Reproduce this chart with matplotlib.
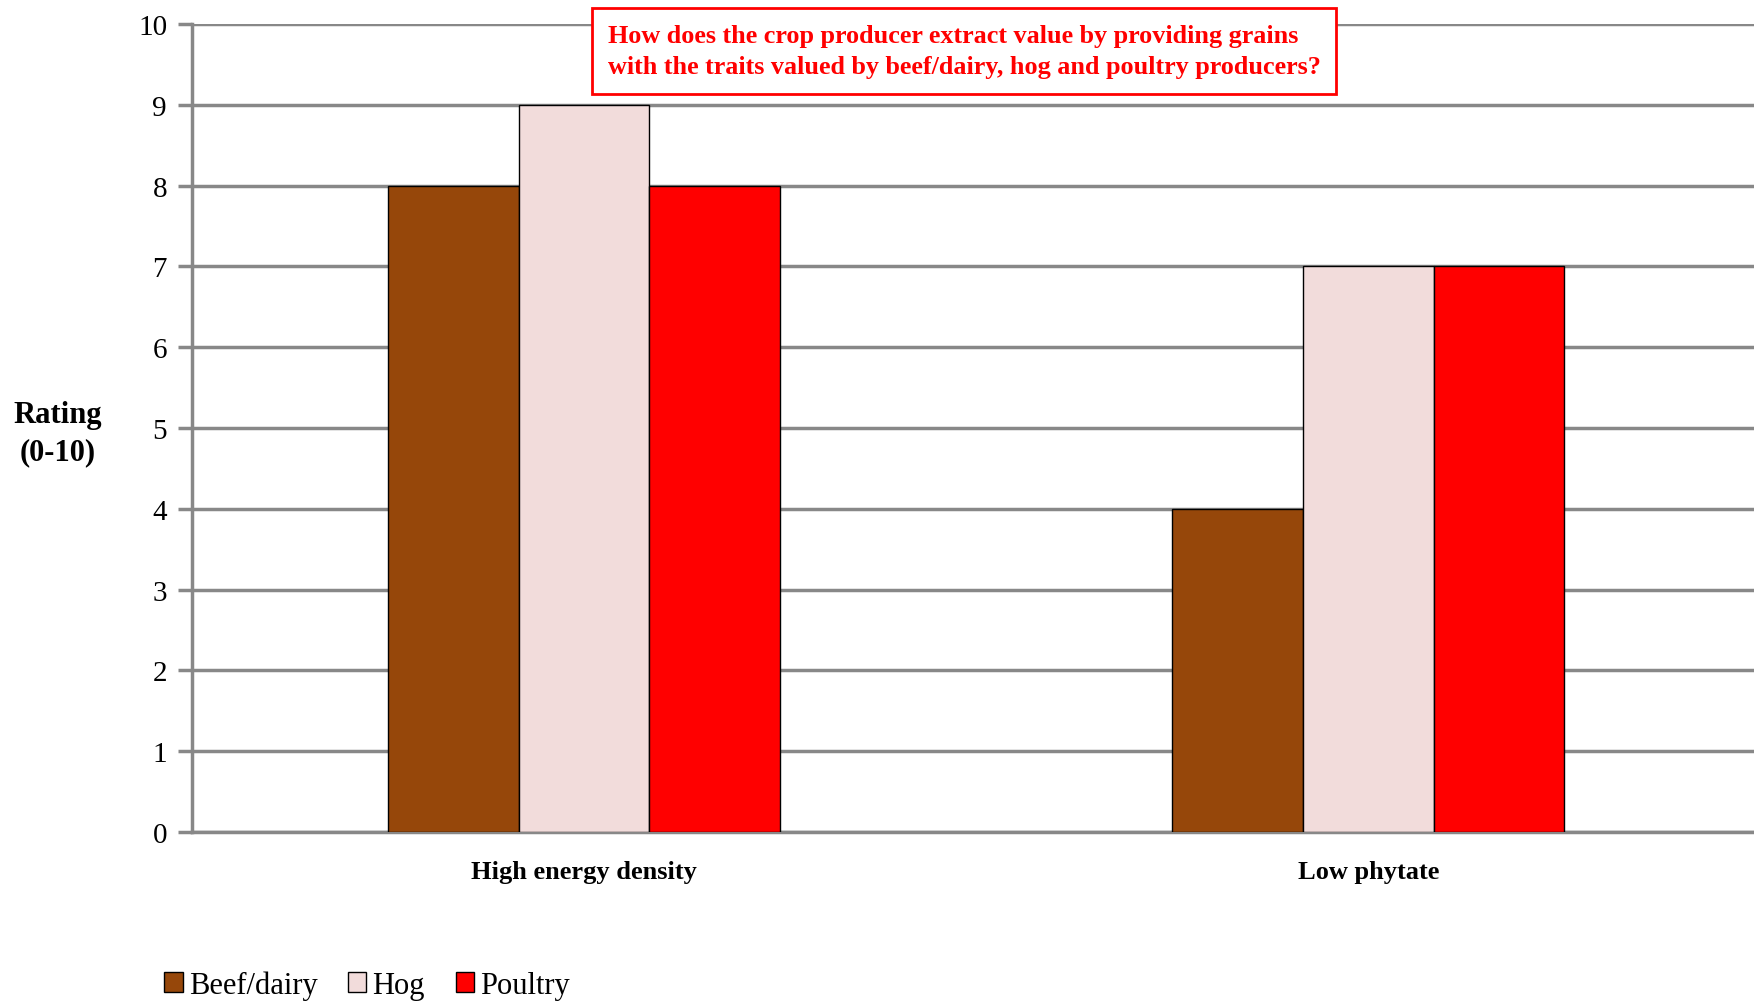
import numpy as np
import matplotlib.pyplot as plt

# data
categories = ['High energy density', 'Low phytate']
series = ['Beef/dairy', 'Hog', 'Poultry']
beef_dairy = [8, 4]
hog = [9, 7]
poultry = [8, 7]
colors = ['#96470A', '#F2DCDB', '#FF0000']
question = ('How does the crop producer extract value by providing grains\n'
            'with the traits valued by beef/dairy, hog and poultry producers?')

plt.rcParams['font.family'] = ['Liberation Serif', 'DejaVu Serif']

fig = plt.figure(figsize=(17.54, 10.03), dpi=100)
ax = fig.add_axes([0.1095, 0.1695, 0.8905, 0.8055])

x = np.arange(len(categories))
w = 0.5 / 3
for i, (vals, name) in enumerate(zip([beef_dairy, hog, poultry], series)):
    ax.bar(x + (i - 1) * w, vals, w, color=colors[i], edgecolor='black',
           linewidth=1, label=name, zorder=3)

ax.set_xlim(-0.5, 1.492)
ax.set_ylim(0, 10)
ax.set_yticks(range(0, 11))
ax.yaxis.grid(True, color='#888888', linewidth=2.5, zorder=0)
ax.set_axisbelow(True)

for s in ['top', 'right']:
    ax.spines[s].set_visible(False)
for s in ['left', 'bottom']:
    ax.spines[s].set_color('#888888')
    ax.spines[s].set_linewidth(2.5)

ax.tick_params(axis='y', length=10, width=2.5, color='#888888', labelsize=21, pad=8)
ax.tick_params(axis='x', length=0, labelsize=19, pad=20)
ax.set_xticks(x)
ax.set_xticklabels(categories, fontweight='bold')

fig.text(0.033, 0.567, 'Rating\n(0-10)', ha='center', va='center',
         fontsize=22, fontweight='bold', linespacing=1.35)

fig.text(0.3465, 0.948, question, ha='left', va='center', color='#FF0000',
         fontsize=18.8, fontweight='bold', linespacing=1.45,
         bbox=dict(boxstyle='square,pad=0.6', facecolor='white',
                   edgecolor='#FF0000', linewidth=2))

fig.legend(loc='lower left', bbox_to_anchor=(0.078, -0.025), ncol=3,
           frameon=False, fontsize=22, handlelength=0.6, handleheight=0.6,
           handletextpad=0.2, columnspacing=1.0)

fig.savefig('out.png', dpi=100)
